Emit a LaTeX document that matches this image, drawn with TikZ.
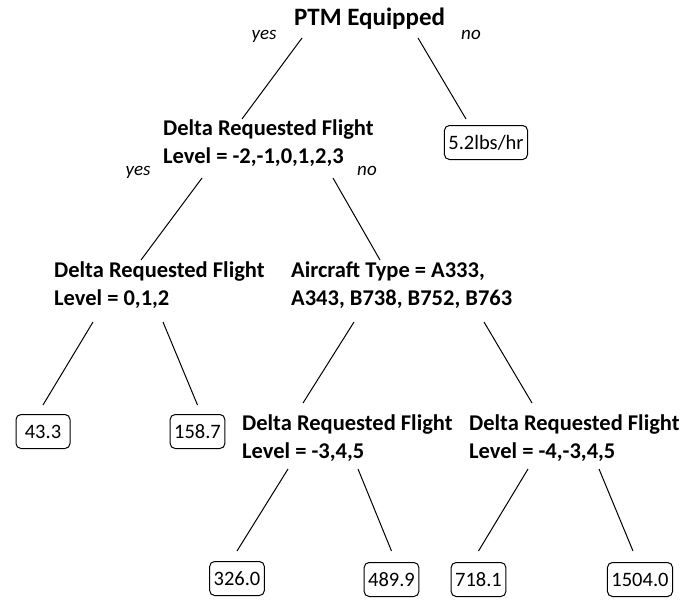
\documentclass[tikz,border=0pt]{standalone}
\usepackage{fontspec}
\setmainfont{Carlito}
\usetikzlibrary{positioning,calc}

\begin{document}
\begin{tikzpicture}[x=1pt,y=-1pt,
    split/.style={inner sep=0pt,align=left,anchor=base west,
      font=\fontsize{22.5}{27.5}\selectfont\bfseries},
    leaf/.style={draw,rounded corners=5pt,line width=1pt,inner xsep=4pt,
      minimum width=54pt,minimum height=34pt,font=\fontsize{20.5}{24}\selectfont},
    ans/.style={anchor=base,inner sep=0pt,font=\fontsize{19}{23}\selectfont\itshape},
    edge/.style={line width=1pt}]%[scale=0.9]
  \useasboundingbox (0,0) rectangle (695,599);
  % split nodes (anchored on the last line)
  \node[split,font=\fontsize{25}{30}\selectfont\bfseries] (ptm) at (294,26) {PTM Equipped};
  \node[split] (dl1) at (163,163) {Delta Requested Flight\\Level = -2,-1,0,1,2,3};
  \node[split] (dl2) at (54,305) {Delta Requested Flight\\Level = 0,1,2};
  \node[split] (act) at (291,305) {Aircraft Type = A333,\\A343, B738, B752, B763};
  \node[split] (dl3) at (242,458) {Delta Requested Flight\\Level = -3,4,5};
  \node[split] (dl4) at (469,458) {Delta Requested Flight\\Level = -4,-3,4,5};
  % leaves
  \node[leaf] (v0) at (486,142.5) {5.2lbs/hr};
  \node[leaf] (v1) at (43,431.5) {43.3};
  \node[leaf] (v2) at (197.5,431.5) {158.7};
  \node[leaf] (v3) at (237,578.5) {326.0};
  \node[leaf] (v4) at (391.5,579.5) {489.9};
  \node[leaf] (v5) at (478.5,579.5) {718.1};
  \node[leaf] (v6) at (640,579.5) {1504.0};
  % branches
  \draw[edge] ([shift={(8,12)}]ptm.base west) -- ([shift={(79,-44)}]dl1.base west);
  \draw[edge] ([shift={(124,12)}]ptm.base west) -- ([shift={(-20,-6)}]v0.north);
  \draw[edge] ([shift={(39,15)}]dl1.base west) -- ([shift={(87,-45)}]dl2.base west);
  \draw[edge] ([shift={(170,15)}]dl1.base west) -- ([shift={(89,-45)}]act.base west);
  \draw[edge] ([shift={(39,17)}]dl2.base west) -- ([shift={(0,-9)}]v1.north);
  \draw[edge] ([shift={(109,17)}]dl2.base west) -- ([shift={(0,-9)}]v2.north);
  \draw[edge] ([shift={(63,17)}]act.base west) -- ([shift={(61,-55)}]dl3.base west);
  \draw[edge] ([shift={(193,17)}]act.base west) -- ([shift={(63,-55)}]dl4.base west);
  \draw[edge] ([shift={(46,11)}]dl3.base west) -- ([shift={(0,-10)}]v3.north);
  \draw[edge] ([shift={(116,11)}]dl3.base west) -- ([shift={(0,-11)}]v4.north);
  \draw[edge] ([shift={(59,11)}]dl4.base west) -- ([shift={(0,-11)}]v5.north);
  \draw[edge] ([shift={(130,11)}]dl4.base west) -- ([shift={(-7,-11)}]v6.north);
  % answers
  \node[ans] (y0) at (264,40) {yes};
  \node[ans] (n0) at (471,40) {no};
  \node[ans] (y1) at (138,175) {yes};
  \node[ans] (n1) at (367,175) {no};
\end{tikzpicture}
\end{document}
